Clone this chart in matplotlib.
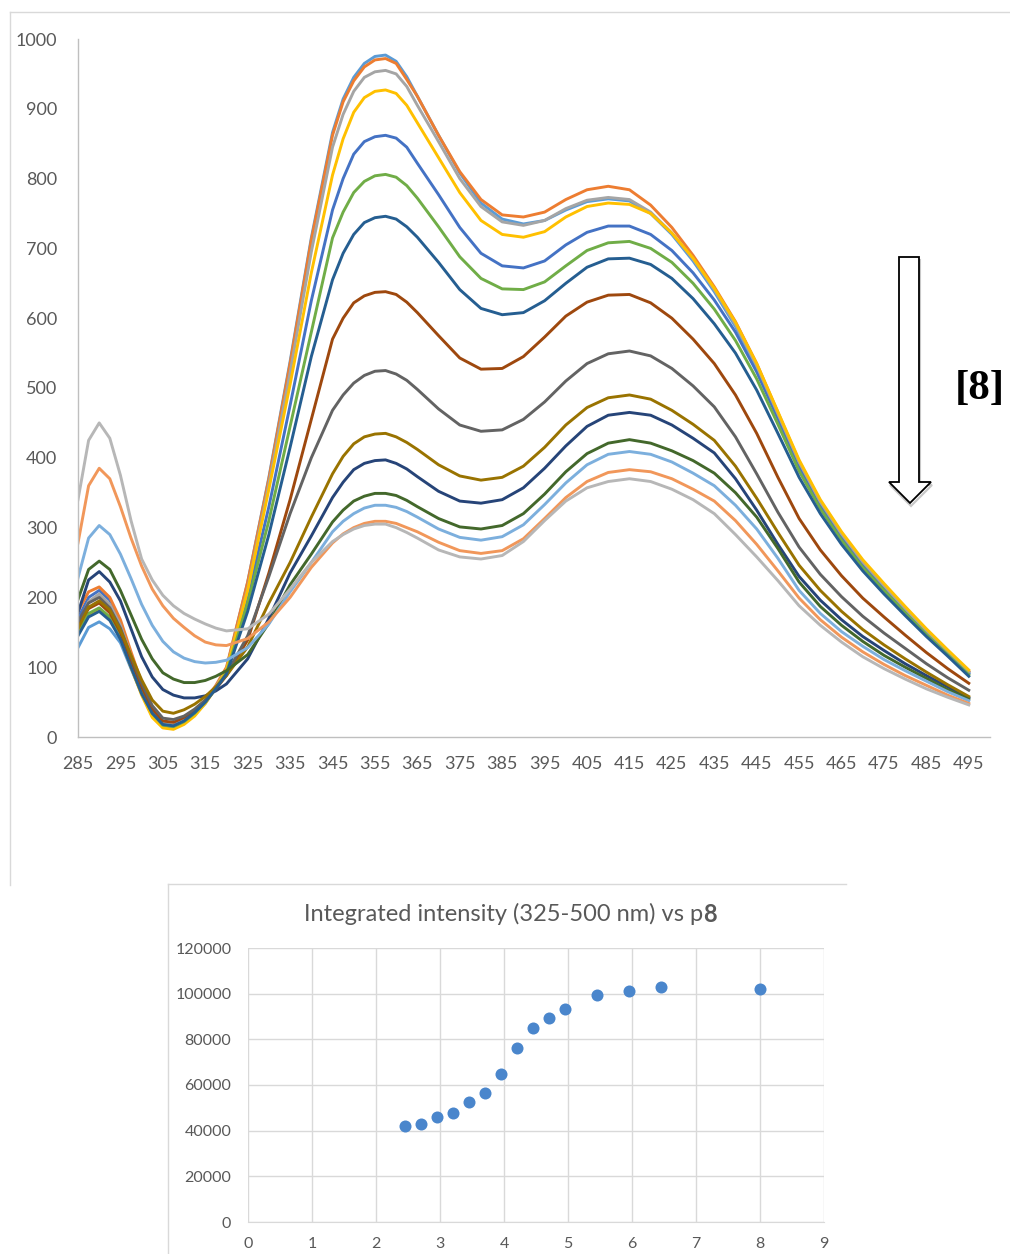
'''
Emission spectra titration with [8] and integrated intensity scatter
'''
#import statements
import matplotlib
matplotlib.use('Agg')
import matplotlib.pyplot as plt
from matplotlib.patches import Polygon
from matplotlib.lines import Line2D

plt.rcParams['font.family'] = ['Lato', 'DejaVu Sans']

#wavelength grid (nm), finer around the sharp features
wavelength = [285, 287.5, 290, 292.5, 295, 297.5, 300, 302.5, 305, 307.5, 310, 312.5, 315, 317.5, 320,
              325, 330, 335, 340, 345,
              347.5, 350, 352.5, 355, 357.5, 360, 362.5, 365,
              370, 375, 380, 385, 390, 395, 400, 405, 410, 415, 420, 425, 430, 435, 440,
              445, 450, 455, 460, 465, 470, 475, 480, 485, 490, 495]
wl_ticks = [285, 295, 305, 315, 325, 335, 345, 355, 365, 375, 385, 395, 405, 415,
            425, 435, 445, 455, 465, 475, 485, 495]

#spectra, one list per addition
blue = [170, 200, 210, 196, 162, 117, 72, 36, 17, 14, 22, 34, 50, 70, 93,
        200, 330, 475, 625, 755,
        800, 835, 853, 860, 862, 858, 845, 822,
        777, 730, 693, 675, 672, 682, 705, 723, 732, 732, 720, 697, 665, 626, 580,
        523, 456, 388, 332, 286, 246, 213, 181, 149, 120, 91]
orange = [180, 208, 215, 200, 168, 122, 78, 40, 20, 16, 24, 36, 52, 74, 100,
          222, 370, 535, 712, 862,
          910, 940, 960, 970, 972, 965, 942, 918,
          862, 810, 770, 748, 745, 752, 770, 784, 789, 784, 762, 730, 690, 645, 595,
          535, 465, 395, 338, 292, 252, 218, 185, 152, 122, 94]
gray = [160, 194, 205, 190, 160, 116, 73, 38, 20, 17, 25, 36, 52, 72, 96,
        212, 362, 522, 695, 845,
        892, 925, 945, 953, 955, 950, 932, 905,
        853, 800, 760, 738, 733, 740, 757, 769, 773, 770, 752, 722, 685, 641, 591,
        532, 463, 394, 337, 291, 251, 217, 184, 152, 122, 93]
gold = [150, 175, 182, 170, 142, 100, 60, 28, 13, 11, 18, 30, 48, 70, 96,
        210, 355, 505, 665, 805,
        857, 895, 916, 925, 927, 922, 905, 880,
        830, 780, 740, 720, 716, 724, 745, 760, 765, 763, 750, 722, 686, 643, 594,
        535, 466, 397, 340, 294, 254, 220, 187, 155, 125, 96]
sky = [128, 157, 165, 155, 135, 98, 62, 30, 14, 12, 20, 32, 48, 71, 98,
       222, 372, 538, 715, 866,
       914, 945, 965, 975, 977, 968, 946, 918,
       862, 808, 765, 742, 735, 740, 755, 767, 771, 768, 750, 720, 682, 638, 588,
       530, 462, 393, 336, 290, 250, 216, 183, 151, 121, 93]
green = [150, 177, 185, 172, 146, 106, 66, 34, 17, 15, 22, 34, 50, 70, 92,
         192, 310, 445, 580, 715,
         752, 780, 796, 804, 806, 802, 790, 772,
         731, 688, 657, 642, 641, 652, 675, 697, 708, 710, 700, 680, 650, 613, 568,
         513, 448, 381, 327, 282, 243, 210, 178, 147, 118, 89]
navy = [178, 225, 237, 222, 195, 155, 115, 86, 68, 60, 56, 56, 59, 66, 76,
        112, 170, 235, 288, 343,
        365, 383, 392, 396, 397, 392, 384, 373,
        352, 338, 335, 340, 357, 385, 417, 445, 461, 465, 461, 447, 428, 407, 370,
        325, 276, 230, 196, 168, 144, 124, 105, 88, 72, 56]
brown = [160, 184, 192, 178, 150, 110, 72, 40, 23, 21, 28, 38, 52, 69, 88,
         139, 235, 340, 455, 570,
         600, 622, 632, 637, 638, 634, 623, 608,
         575, 543, 527, 528, 545, 573, 603, 623, 633, 634, 622, 600, 570, 535, 490,
         435, 372, 313, 268, 231, 199, 172, 146, 121, 98, 77]
darkgray = [165, 192, 200, 185, 156, 115, 77, 45, 27, 25, 30, 40, 53, 70, 90,
            145, 230, 320, 400, 468,
            490, 507, 518, 524, 525, 520, 511, 498,
            470, 447, 438, 440, 455, 480, 510, 535, 549, 553, 546, 528, 503, 473, 430,
            377, 322, 272, 233, 201, 173, 149, 127, 105, 85, 67]
darkgold = [155, 186, 195, 182, 153, 117, 82, 53, 37, 34, 39, 47, 58, 72, 88,
            129, 192, 250, 315, 377,
            402, 420, 430, 434, 435, 430, 422, 412,
            390, 374, 368, 372, 388, 415, 447, 472, 486, 490, 484, 468, 448, 425, 388,
            342, 293, 246, 210, 180, 154, 132, 112, 93, 75, 58]
darkblue = [145, 172, 180, 167, 140, 100, 62, 34, 18, 16, 23, 35, 50, 69, 90,
            180, 290, 415, 545, 655,
            693, 720, 737, 744, 746, 742, 731, 716,
            680, 641, 614, 605, 608, 625, 650, 673, 685, 686, 677, 657, 628, 592, 550,
            497, 435, 372, 320, 276, 238, 205, 174, 144, 116, 87]
darkgreen = [197, 240, 252, 240, 210, 175, 140, 112, 92, 83, 78, 78, 81, 87, 95,
             118, 163, 218, 262, 308,
             325, 338, 345, 349, 349, 346, 339, 330,
             313, 301, 298, 303, 320, 348, 380, 406, 421, 426, 421, 410, 396, 378, 350,
             315, 270, 222, 187, 160, 137, 117, 100, 84, 68, 54]
lightblue = [228, 285, 303, 290, 262, 227, 190, 160, 137, 122, 113, 108, 106, 107, 110,
             128, 162, 208, 250, 294,
             309, 320, 328, 332, 332, 329, 323, 315,
             298, 286, 282, 287, 304, 333, 364, 390, 405, 409, 405, 394, 378, 360, 332,
             298, 256, 210, 177, 151, 130, 111, 95, 80, 65, 52]
lightorange = [278, 360, 385, 370, 330, 285, 245, 212, 188, 170, 157, 145, 136, 132, 131,
               141, 165, 200, 243, 278,
               291, 300, 306, 309, 309, 306, 300, 294,
               279, 267, 263, 267, 284, 313, 343, 366, 379, 383, 380, 370, 355, 338, 310,
               276, 238, 199, 168, 143, 122, 104, 88, 74, 60, 48]
lightgray = [340, 425, 450, 428, 375, 310, 255, 225, 203, 188, 177, 169, 162, 156, 152,
             155, 176, 212, 250, 280,
             290, 298, 303, 305, 305, 300, 293, 285,
             268, 258, 255, 260, 280, 310, 338, 357, 366, 370, 366, 355, 340, 320, 290,
             258, 224, 188, 160, 136, 115, 98, 83, 69, 57, 46]

#draw order: sky first so the orange trace sits over it
spectra = [sky, blue, orange, gray, gold, green, navy, brown, darkgray,
           darkgold, darkblue, darkgreen, lightblue, lightorange, lightgray]
colors = ['#5B9BD5', '#4472C4', '#ED7D31', '#A5A5A5', '#FFC000', '#70AD47',
          '#264478', '#9E480E', '#636363', '#997300', '#255E91', '#43682B',
          '#7CAFDD', '#F1975A', '#B7B7B7']

#integrated intensity vs equivalents of 8
equiv = [2.45, 2.70, 2.95, 3.20, 3.45, 3.70, 3.95, 4.20, 4.45, 4.70, 4.95, 5.45, 5.95, 6.45, 8.0]
integrated = [42000, 43000, 46000, 47800, 52600, 56400, 64800, 76000, 85000, 89300,
              93500, 99500, 101000, 103100, 102100]

W, H = 1010, 1254
label_color = '#595959'

#pixel helpers (figure fraction)
def fx(px):
    return px / W

def fy(py):
    return 1 - py / H

fig = plt.figure(figsize=(W / 100, H / 100), dpi=100)

#chart frames
frame = '#D9D9D9'
fig.add_artist(Line2D([fx(10), fx(10)], [fy(12), fy(885)], color=frame, lw=1))
fig.add_artist(Line2D([fx(10), fx(1010)], [fy(12), fy(12)], color=frame, lw=1))
fig.add_artist(Line2D([fx(168), fx(168)], [fy(884), fy(1254)], color=frame, lw=1))
fig.add_artist(Line2D([fx(168), fx(846)], [fy(884), fy(884)], color=frame, lw=1))

#top: spectra
ax1 = fig.add_axes([fx(78), fy(737), (990 - 78) / W, (737 - 39) / H])
for values, c in zip(spectra, colors):
    ax1.plot(wavelength, values, color=c, lw=2.1, solid_joinstyle='round')
ax1.set_xlim(285, 500)
ax1.set_ylim(0, 1000)
ax1.set_xticks(wl_ticks)
ax1.set_yticks(range(0, 1001, 100))
ax1.tick_params(length=0, labelsize=13, labelcolor=label_color)
ax1.tick_params(axis='x', pad=14)
ax1.tick_params(axis='y', pad=15)
for side in ['top', 'right']:
    ax1.spines[side].set_visible(False)
for side in ['left', 'bottom']:
    ax1.spines[side].set_color('#BFBFBF')
    ax1.spines[side].set_linewidth(1)

#arrow showing decrease
arrow = [(899, 257), (919, 257), (919, 482), (931, 482), (910, 503), (889, 482), (899, 482)]
shadow = Polygon([(fx(x + 1), fy(y + 3)) for x, y in arrow], closed=True,
                 facecolor='none', edgecolor='#C8C8C8', lw=1.5, transform=fig.transFigure)
fig.add_artist(shadow)
arr = Polygon([(fx(x), fy(y)) for x, y in arrow], closed=True,
              facecolor='white', edgecolor='black', lw=1.3, transform=fig.transFigure)
fig.add_artist(arr)
fig.text(fx(980), fy(389), '[8]', ha='center', va='center', fontsize=31,
         fontweight='bold', family='Liberation Serif')

#bottom: integrated intensity
ax2 = fig.add_axes([fx(248), fy(1222), (824 - 248) / W, (1222 - 948) / H])
ax2.scatter(equiv, integrated, s=75, color='#4A86CC', zorder=3, linewidths=0)
ax2.set_xlim(0, 9)
ax2.set_ylim(0, 120000)
ax2.set_xticks(range(0, 10))
ax2.set_yticks(range(0, 120001, 20000))
ax2.grid(True, color='#D9D9D9', lw=1)
ax2.tick_params(length=0, labelsize=11.5, labelcolor=label_color)
ax2.tick_params(axis='x', pad=11)
ax2.tick_params(axis='y', pad=12)
for side in ['top', 'right', 'left']:
    ax2.spines[side].set_visible(False)
ax2.spines['bottom'].set_color('#D9D9D9')

#title with bold 8
renderer = fig.canvas.get_renderer()
t1 = fig.text(0, fy(914), 'Integrated intensity (325-500 nm) vs p', fontsize=17,
              color=label_color, va='center')
t2 = fig.text(0, fy(914), '8', fontsize=17, fontweight='bold', color=label_color, va='center')
w1 = t1.get_window_extent(renderer).width
w2 = t2.get_window_extent(renderer).width
start = 510 - (w1 + w2) / 2
t1.set_x(fx(start))
t2.set_x(fx(start + w1))

fig.savefig('out.png', dpi=100)
